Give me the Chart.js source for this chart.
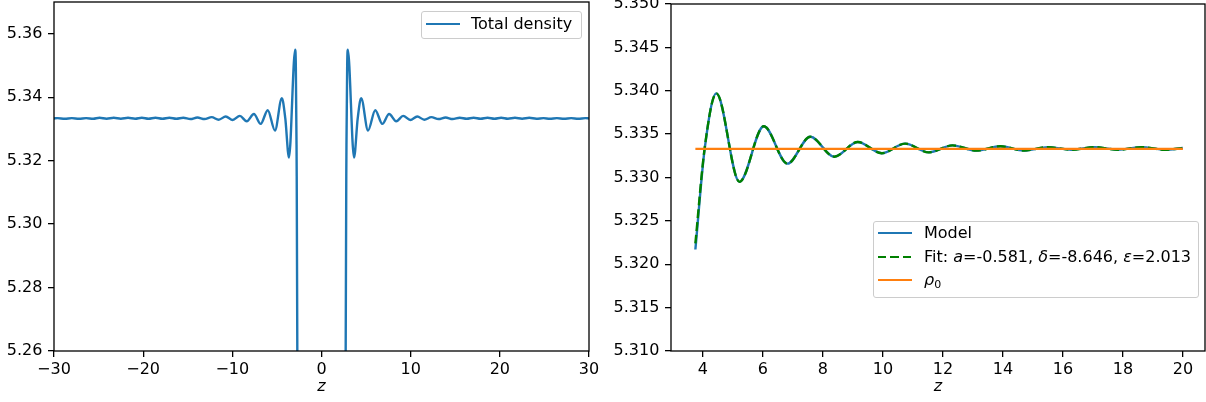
<!DOCTYPE html>
<html>
<head>
<meta charset="utf-8">
<script src="https://cdn.jsdelivr.net/npm/chart.js@4.4.0/dist/chart.umd.min.js"></script>
<style>
  body { margin: 0; background: #fff; }
  #wrap { position: relative; width: 1206px; height: 402px; overflow: hidden; }
  canvas { position: absolute; top: 0; }
  .lg { position: absolute; background: rgba(255,255,255,0.8); border: 1px solid #cccccc; border-radius: 3px; box-sizing: border-box; }
  .sw { position: absolute; height: 2.4px; }
  .tx { position: absolute; font: 16px "DejaVu Sans"; line-height: 20px; white-space: nowrap; color: #000; }
  .tx i { font-style: italic; }
  .tx sub { font-size: 11px; vertical-align: -3px; line-height: 0; }
</style>
</head>
<body>
<div id="wrap">
  <canvas id="left" width="600" height="402" style="left:0"></canvas>
  <canvas id="right" width="606" height="402" style="left:600px"></canvas>

  <div class="lg" style="left:421px;top:11px;width:161px;height:28px"></div>
  <div class="sw" style="left:426px;top:23px;width:34px;background:#1f77b4"></div>
  <div class="tx" style="left:471px;top:14px">Total density</div>

  <div class="lg" style="left:873px;top:221px;width:326px;height:77px"></div>
  <div class="sw" style="left:878px;top:232px;width:34px;background:#1f77b4"></div>
  <div class="tx" style="left:924px;top:223px">Model</div>
  <div class="sw" style="left:878px;top:256px;width:34px;background:repeating-linear-gradient(to right,#008000 0 8.5px,transparent 8.5px 12.3px)"></div>
  <div class="tx" style="left:924px;top:247px">Fit: <i>a</i>=-0.581, <i>δ</i>=-8.646, <i>ε</i>=2.013</div>
  <div class="sw" style="left:878px;top:279px;width:34px;background:#ff7f0e"></div>
  <div class="tx" style="left:924px;top:270px"><i>ρ</i><sub>0</sub></div>
</div>

<script>
// left panel: total density vs z
const zTotal = [
  -30.0, -29.6, -28.8, -28.0, -27.2, -26.4, -25.6, -24.9, -24.1, -23.3, -22.5, -21.7, -20.9, -20.15,
  -19.40, -18.62, -17.84, -17.06, -16.28, -15.50, -14.70, -13.92, -13.12, -12.32, -11.53, -10.74,
  -9.96, -9.16, -8.38, -7.58, -6.82, -6.03, -5.22, -4.45, -4.06, -3.65, -2.95, -2.88, -2.80, -2.70, -2.55,
  2.55, 2.70, 2.80, 2.88, 2.95, 3.65, 4.06, 4.45, 5.22, 6.03, 6.82, 7.58, 8.38, 9.16, 9.96,
  10.74, 11.53, 12.32, 13.12, 13.92, 14.70, 15.50, 16.28, 17.06, 17.84, 18.62, 19.40,
  20.15, 20.9, 21.7, 22.5, 23.3, 24.1, 24.9, 25.6, 26.4, 27.2, 28.0, 28.8, 29.6, 30.0
];
const rhoTotal = [
  5.3333, 5.3334, 5.3332, 5.3334, 5.3332, 5.3334, 5.3332, 5.3335, 5.3332, 5.3335, 5.3332, 5.3335, 5.3332, 5.3335,
  5.3332, 5.3335, 5.3332, 5.3335, 5.3332, 5.3335, 5.3331, 5.3336, 5.3331, 5.3337, 5.3329, 5.3339,
  5.3328, 5.3341, 5.3324, 5.3347, 5.3316, 5.3359, 5.3295, 5.3397, 5.3333, 5.3210, 5.3550, 5.3500, 5.3250, 5.2500, 4.9000,
  4.9000, 5.2500, 5.3250, 5.3500, 5.3550, 5.3210, 5.3333, 5.3397, 5.3295, 5.3359, 5.3316, 5.3347, 5.3324, 5.3341, 5.3328,
  5.3339, 5.3329, 5.3337, 5.3331, 5.3336, 5.3331, 5.3335, 5.3332, 5.3335, 5.3332, 5.3335, 5.3332,
  5.3335, 5.3332, 5.3335, 5.3332, 5.3335, 5.3332, 5.3334, 5.3332, 5.3334, 5.3332, 5.3334, 5.3332, 5.3334, 5.3333
];
const xTicksLeft = [-30, -20, -10, 0, 10, 20, 30];
const yTicksLeft = [5.26, 5.28, 5.30, 5.32, 5.34, 5.36];

// right panel: model, fit and rho_0
const zModel = [3.75, 4.06, 4.45, 5.22, 6.03, 6.82, 7.58, 8.38, 9.16, 9.96, 10.74, 11.53, 12.32, 13.12,
  13.92, 14.70, 15.50, 16.28, 17.06, 17.84, 18.62, 19.40, 20.0];
const rhoModel = [5.3217, 5.3333, 5.3397, 5.3295, 5.3359, 5.3316, 5.3347, 5.3324, 5.3341, 5.3328, 5.3339, 5.3329, 5.3337, 5.3331,
  5.3336, 5.3331, 5.3335, 5.3332, 5.3335, 5.3332, 5.3335, 5.3332, 5.3334];
const rhoFit = [5.3224, 5.3334, 5.3397, 5.3295, 5.3359, 5.3316, 5.3347, 5.3324, 5.3341, 5.3328, 5.3339, 5.3329, 5.3337, 5.3331,
  5.3336, 5.3331, 5.3335, 5.3332, 5.3335, 5.3332, 5.3335, 5.3332, 5.3334];
const zRho0 = [3.75, 20.0];
const rho0 = [5.3333, 5.3333];
const xTicksRight = [4, 6, 8, 10, 12, 14, 16, 18, 20];
const yTicksRight = [5.310, 5.315, 5.320, 5.325, 5.330, 5.335, 5.340, 5.345, 5.350];

const FONT = { family: '"DejaVu Sans"', size: 16 };
const pts = (xs, ys) => xs.map((x, i) => ({ x: x, y: ys[i] }));
const minus = v => v < 0 ? '\u2212' + Math.abs(v) : String(v);

const frame = {
  id: 'frame',
  afterDraw(chart) {
    const { ctx, chartArea: { left, top, right, bottom } } = chart;
    ctx.save();
    ctx.strokeStyle = '#000';
    ctx.lineWidth = 1.3;
    ctx.strokeRect(left, top, right - left, bottom - top);
    ctx.font = 'italic 16px "DejaVu Sans"';
    ctx.fillStyle = '#000';
    ctx.textAlign = 'center';
    ctx.textBaseline = 'alphabetic';
    ctx.fillText('z', (left + right) / 2, 391);
    ctx.restore();
  }
};

function axes(xmin, xmax, xTicks, xFmt, ymin, ymax, yTicks, yFmt, yWidth) {
  const grid = { drawOnChartArea: false, drawTicks: true, tickLength: 6, color: '#000', lineWidth: 1.3 };
  return {
    x: {
      type: 'linear', min: xmin, max: xmax,
      afterBuildTicks: s => { s.ticks = xTicks.map(v => ({ value: v })); },
      afterFit: s => { s.height = 51; s.paddingLeft = 0; s.paddingRight = 0; },
      ticks: { font: FONT, color: '#000', padding: 3, maxRotation: 0, autoSkip: false, callback: xFmt },
      grid: grid, border: { display: false }
    },
    y: {
      min: ymin, max: ymax,
      afterBuildTicks: s => { s.ticks = yTicks.map(v => ({ value: v })); },
      afterFit: s => { s.width = yWidth; s.paddingTop = 0; s.paddingBottom = 0; },
      ticks: { font: FONT, color: '#000', padding: 5.6, autoSkip: false, callback: yFmt },
      grid: grid, border: { display: false }
    }
  };
}

const common = {
  responsive: false, animation: false, devicePixelRatio: 1,
  plugins: { legend: { display: false }, tooltip: { enabled: false } },
  elements: { point: { radius: 0 }, line: { cubicInterpolationMode: 'monotone' } }
};

new Chart(document.getElementById('left'), {
  type: 'line',
  data: {
    datasets: [{
      label: 'Total density', data: pts(zTotal, rhoTotal),
      borderColor: '#1f77b4', borderWidth: 2.4, clip: 0
    }]
  },
  options: Object.assign({}, common, {
    layout: { padding: { top: 2, right: 11, left: 0, bottom: 0 } },
    scales: axes(-30, 30, xTicksLeft, minus, 5.26, 5.37, yTicksLeft, v => v.toFixed(2), 54)
  }),
  plugins: [frame]
});

new Chart(document.getElementById('right'), {
  type: 'line',
  data: {
    datasets: [
      { label: 'Model', data: pts(zModel, rhoModel), borderColor: '#1f77b4', borderWidth: 2.4, order: 3, clip: 0 },
      { label: 'Fit', data: pts(zModel, rhoFit), borderColor: '#008000', borderWidth: 2.4, borderDash: [8.9, 3.8], order: 2, clip: 0 },
      { label: 'rho0', data: pts(zRho0, rho0), borderColor: '#ff7f0e', borderWidth: 2.4, order: 1, clip: 0 }
    ]
  },
  options: Object.assign({}, common, {
    layout: { padding: { top: 4, right: 1, left: 0, bottom: 0 } },
    scales: axes(2.9375, 20.7375, xTicksRight, v => String(v), 5.31, 5.35, yTicksRight, v => v.toFixed(3), 71)
  }),
  plugins: [frame]
});
</script>
</body>
</html>
